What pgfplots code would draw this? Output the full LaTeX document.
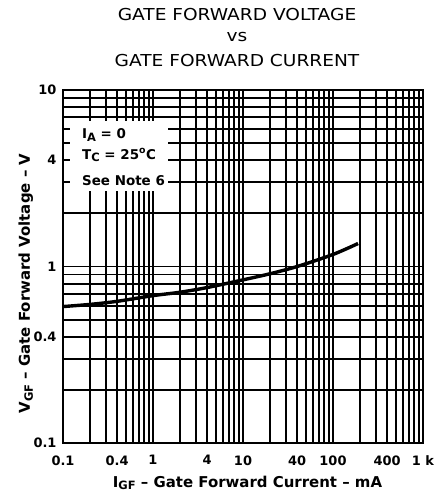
\documentclass[border=0pt]{standalone}
\usepackage{fontspec}
\setmainfont{DejaVu Sans}
\usepackage{graphicx}
\usepackage{pgfplots}
\pgfplotsset{compat=1.18}
\newcommand{\subA}[1]{\raisebox{-2.8bp}{\fontsize{11.5}{11.5}\selectfont #1}}
\newcommand{\ttl}[1]{\scalebox{1.13}[1]{\fontsize{16.5}{18}\selectfont #1}}
\begin{document}
\begin{tikzpicture}
\begin{axis}[
  scale only axis, width=360bp, height=353bp,
  xmode=log, ymode=log,
  xmin=0.1, xmax=1000, ymin=0.1, ymax=10,
  xtick={0.1,0.2,0.3,0.4,0.5,0.6,0.7,0.8,0.9,1,2,3,4,5,6,7,8,9,10,20,30,40,50,60,70,80,90,100,200,300,400,500,600,700,800,900,1000},
  xticklabels={0.1,,,0.4,,,,,,1,,,4,,,,,,10,,,40,,,,,,100,,,400,,,,,,1 k},
  ytick={0.1,0.2,0.3,0.4,0.5,0.6,0.7,0.8,0.9,1,2,3,4,5,6,7,8,9,10},
  yticklabels={0.1,,,0.4,,,,,,1,,,4,,,,,,10},
  grid=major,
  major grid style={black, line width=1.8bp},
  major tick length=0pt,
  axis line style={line width=2bp},
  /pgf/number format/assume math mode=true,
  ticklabel style={font=\fontsize{13}{15}\selectfont\bfseries},
  xticklabel style={anchor=north, yshift=-9bp},
  yticklabel style={anchor=east, xshift=-3bp},
  clip=false,
  xlabel={\fontsize{15}{17}\selectfont\bfseries I\subA{GF} \textendash\ Gate Forward Current \textendash\ mA},
  xlabel style={at={(rel axis cs:0.5,0)}, anchor=base, xshift=4.5bp, yshift=-44bp},
  ylabel={\fontsize{15}{17}\selectfont\bfseries V\subA{GF} \textendash\ Gate Forward Voltage \textendash\ V},
  ylabel style={at={(rel axis cs:0,0.5)}, anchor=base, xshift=-17bp, yshift=33bp},
]
\addplot[black, line width=3.4bp, smooth] coordinates {
(0.1,0.593) (0.2,0.61) (0.4,0.635) (1,0.684) (2,0.715) (4,0.76) (10,0.84) (20,0.91) (40,1.0) (100,1.17) (190,1.35)
};
\fill[white] (axis cs:0.1196,6.67) rectangle (axis cs:1.468,2.67);
\node[anchor=base west, inner sep=0pt, font=\fontsize{13.5}{15}\selectfont\bfseries] at (axis cs:0.1626,5.33) {I\subA{A} = 0};
\node[anchor=base west, inner sep=0pt, font=\fontsize{13.5}{15}\selectfont\bfseries] at (axis cs:0.1626,4.06) {T\subA{C} = 25\textsuperscript{o}C};
\node[anchor=base west, inner sep=0pt, font=\fontsize{13.5}{15}\selectfont\bfseries] at (axis cs:0.1626,2.88) {See Note 6};
\node[anchor=base] at ([xshift=-6bp,yshift=69.3bp]rel axis cs:0.5,1) {\ttl{GATE FORWARD VOLTAGE}};
\node[anchor=base] at ([xshift=-6bp,yshift=48bp]rel axis cs:0.5,1) {\ttl{vs}};
\node[anchor=base] at ([xshift=-6bp,yshift=23bp]rel axis cs:0.5,1) {\ttl{GATE FORWARD CURRENT}};
\coordinate (SW) at (rel axis cs:0,0);
\coordinate (NE) at (rel axis cs:1,1);
\end{axis}
\pgfresetboundingbox
\useasboundingbox ([shift={(-63bp,-52bp)}]SW) rectangle ([shift={(15bp,90bp)}]NE);
\end{tikzpicture}
\end{document}
